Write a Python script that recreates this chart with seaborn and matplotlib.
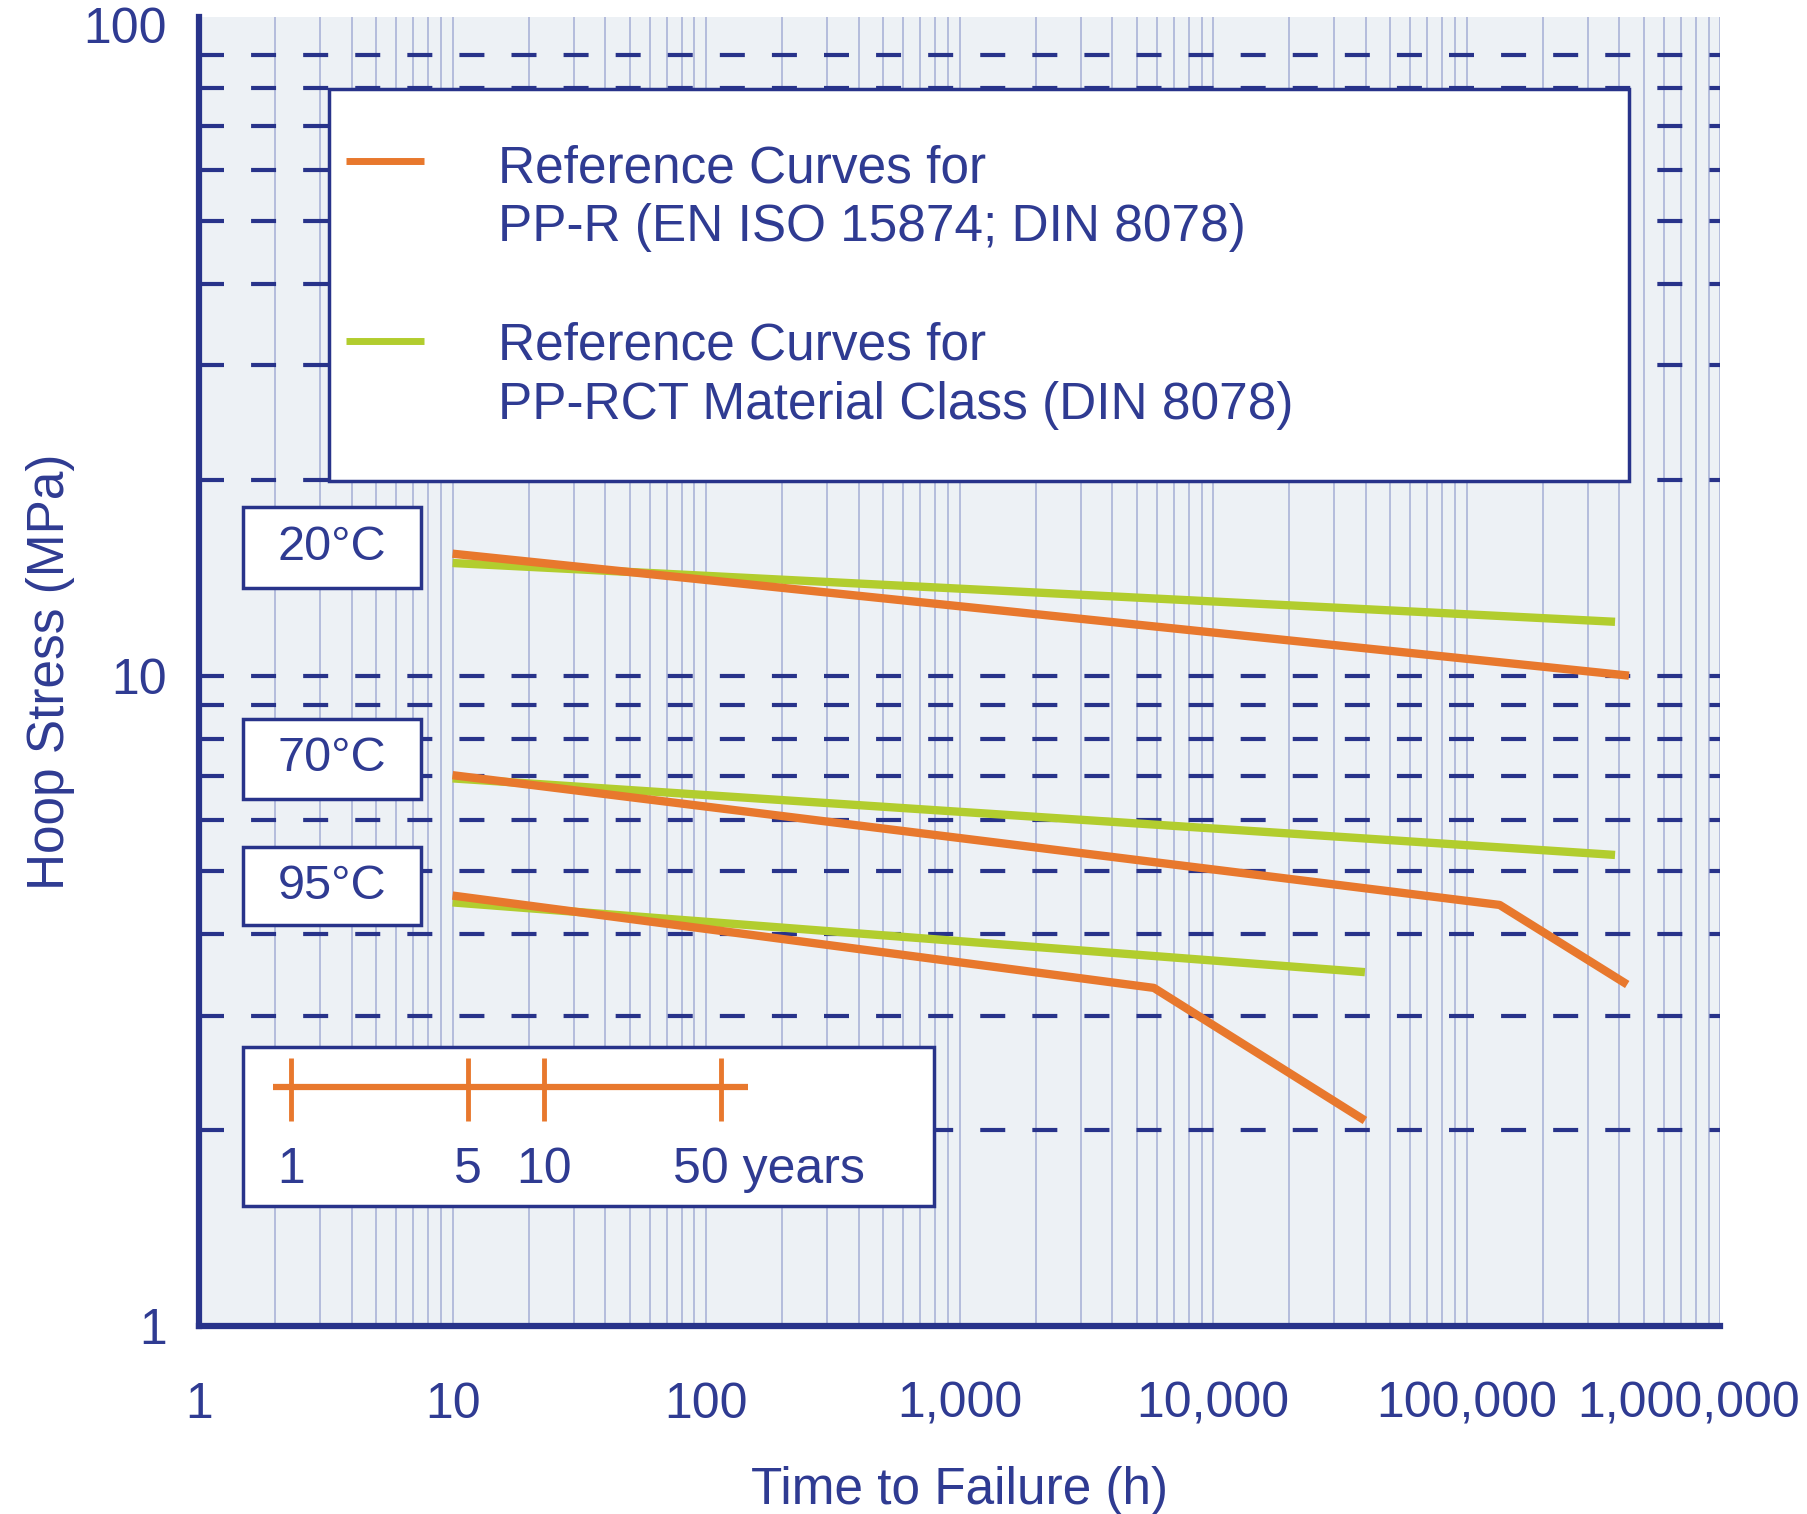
import numpy as np
import pandas as pd
import seaborn as sns
import matplotlib.pyplot as plt
import matplotlib.transforms as mtransforms
from matplotlib.patches import Rectangle
from matplotlib.ticker import FixedLocator, LogLocator, NullFormatter

# values: time to failure (h) / hoop stress (MPa)
ppr_20_time = [10, 437000]
ppr_20_stress = [15.4, 10.0]
ppr_70_time = [10, 135000, 430000]
ppr_70_stress = [7.03, 4.44, 3.35]
ppr_95_time = [10, 5840, 39700]
ppr_95_stress = [4.59, 3.31, 2.07]

rct_20_time = [10, 385000]
rct_20_stress = [14.9, 12.1]
rct_70_time = [10, 385000]
rct_70_stress = [6.95, 5.30]
rct_95_time = [10, 39700]
rct_95_stress = [4.48, 3.50]

temperatures = ['20°C', '70°C', '95°C']
x_ticks = [1, 10, 100, 1000, 10000, 100000, 1000000]
x_tick_labels = ['1', '10', '100', '1,000', '10,000', '100,000', '1,000,000']
y_ticks = [1, 10, 100]
y_tick_labels = ['1', '10', '100']
ruler_years = [1, 5, 10, 50]
ruler_labels = ['1', '5', '10', '50 years']

# =============================================================================
NAVY = '#28338a'
TEXT = '#2f3b92'
ORANGE = '#e8782d'
GREEN = '#b2cd2e'
GRID_V = '#aab3d8'
BG = '#edf1f5'

curves = [
    ('PP-RCT', '20', rct_20_time, rct_20_stress),
    ('PP-RCT', '70', rct_70_time, rct_70_stress),
    ('PP-RCT', '95', rct_95_time, rct_95_stress),
    ('PP-R', '20', ppr_20_time, ppr_20_stress),
    ('PP-R', '70', ppr_70_time, ppr_70_stress),
    ('PP-R', '95', ppr_95_time, ppr_95_stress),
]
rows = []
for material, temp, t, s in curves:
    for ti, si in zip(t, s):
        rows.append({'material': material, 'curve': material + temp,
                     'time': ti, 'stress': si})
df = pd.DataFrame(rows)

sns.set_theme(style='white', rc={'axes.facecolor': BG,
                                 'figure.facecolor': 'white',
                                 'lines.solid_capstyle': 'butt'})
plt.rcParams['font.family'] = ['Liberation Sans', 'DejaVu Sans']

fig = plt.figure(figsize=(18.08, 15.14), dpi=100)
ax = fig.add_axes([0.1101, 0.1242, 0.8413, 0.8646])
ax.set_xscale('log')
ax.set_yscale('log')

sns.lineplot(data=df, x='time', y='stress', hue='material',
             hue_order=['PP-RCT', 'PP-R'],
             palette={'PP-R': ORANGE, 'PP-RCT': GREEN},
             units='curve', estimator=None, sort=False,
             linewidth=6, legend=False, ax=ax)

# --- axes / grid -------------------------------------------------------------
ax.set_xlim(1, 1e6)
ax.set_ylim(1, 103)
ax.set_xticks(x_ticks)
ax.set_xticklabels(x_tick_labels)
ax.set_yticks(y_ticks)
ax.set_yticklabels(y_tick_labels)

ax.xaxis.set_minor_locator(LogLocator(base=10, subs=np.arange(2, 10), numticks=30))
ax.xaxis.set_minor_formatter(NullFormatter())
ax.yaxis.remove_overlapping_locs = False
ax.yaxis.set_minor_locator(FixedLocator([v * d for d in (1, 10) for v in range(1, 10)][1:]))
ax.yaxis.set_minor_formatter(NullFormatter())

ax.grid(axis='x', which='both', color=GRID_V, lw=1.2, ls='-')
ax.grid(axis='y', which='major', visible=False)
ax.grid(axis='y', which='minor', color=NAVY, lw=3, ls=(0, (6, 6.5)))

ax.tick_params(which='both', length=0)
ax.tick_params(axis='x', which='major', pad=40, labelsize=36, labelcolor=TEXT)
ax.tick_params(axis='y', which='major', pad=23, labelsize=36, labelcolor=TEXT)

# the last x label would run off the figure edge: nudge it left
last = ax.get_xticklabels()[-1]
last.set_transform(last.get_transform()
                   + mtransforms.ScaledTranslation(-0.32, 0, fig.dpi_scale_trans))

for side in ['top', 'right']:
    ax.spines[side].set_visible(False)
for side in ['left', 'bottom']:
    ax.spines[side].set_linewidth(4.5)
    ax.spines[side].set_color(NAVY)

ax.set_xlabel('Time to Failure (h)', fontsize=37, color=TEXT, labelpad=28)
ax.set_ylabel('Hoop Stress (MPa)', fontsize=37, color=TEXT, labelpad=6)

# --- legend box --------------------------------------------------------------
ax.add_patch(Rectangle((0.0855, 0.6455), 0.8545, 0.2995, transform=ax.transAxes,
                       facecolor='white', edgecolor=NAVY, lw=2.5, zorder=3))
ax.plot([0.0966, 0.1479], [0.890, 0.890], transform=ax.transAxes,
        color=ORANGE, lw=5, zorder=4)
ax.plot([0.0966, 0.1479], [0.7525, 0.7525], transform=ax.transAxes,
        color=GREEN, lw=5, zorder=4)
legend_lines = [('Reference Curves for', 0.8835),
                ('PP-R (EN ISO 15874; DIN 8078)', 0.8388),
                ('Reference Curves for', 0.7487),
                ('PP-RCT Material Class (DIN 8078)', 0.7028)]
for txt, y in legend_lines:
    ax.text(0.1966, y, txt, transform=ax.transAxes, ha='left', va='center',
            fontsize=37, color=TEXT, zorder=5)

# --- temperature boxes -------------------------------------------------------
temp_boxes = [(0.5638, 0.6257), (0.4026, 0.4637), (0.3063, 0.3659)]
for label, (y0, y1) in zip(temperatures, temp_boxes):
    ax.add_patch(Rectangle((0.0289, y0), 0.1171, y1 - y0, transform=ax.transAxes,
                           facecolor='white', edgecolor=NAVY, lw=2.5, zorder=3))
    ax.text(0.0875, (y0 + y1) / 2, label, transform=ax.transAxes,
            ha='center', va='center', fontsize=35, color=TEXT, zorder=5)

# --- years ruler ---------------------------------------------------------------
ruler_anchor = 2.3   # x position of the "1 year" mark
trans = mtransforms.blended_transform_factory(ax.transData, ax.transAxes)
ax.add_patch(Rectangle((0.0289, 0.0917), 0.4541, 0.1214, transform=ax.transAxes,
                       facecolor='white', edgecolor=NAVY, lw=2.5, zorder=3))
ax.plot(np.array([0.854, 63.4]) * ruler_anchor, [0.1826, 0.1826], transform=trans,
        color=ORANGE, lw=4.5, zorder=4)
for yr, lab in zip(ruler_years, ruler_labels):
    x = yr * ruler_anchor
    ax.plot([x, x], [0.1566, 0.2047], transform=trans, color=ORANGE, lw=3.5, zorder=4)
    if lab.endswith('years'):
        ax.annotate(lab, (x, 0.1192), xycoords=trans, xytext=(-35, 0),
                    textcoords='offset points', ha='left', va='center',
                    fontsize=36, color=TEXT, zorder=5)
    else:
        ax.text(x, 0.1192, lab, transform=trans, ha='center', va='center',
                fontsize=36, color=TEXT, zorder=5)

ax.set_xlim(1, 1e6)
ax.set_ylim(1, 103)

fig.savefig('out.png', dpi=100)
